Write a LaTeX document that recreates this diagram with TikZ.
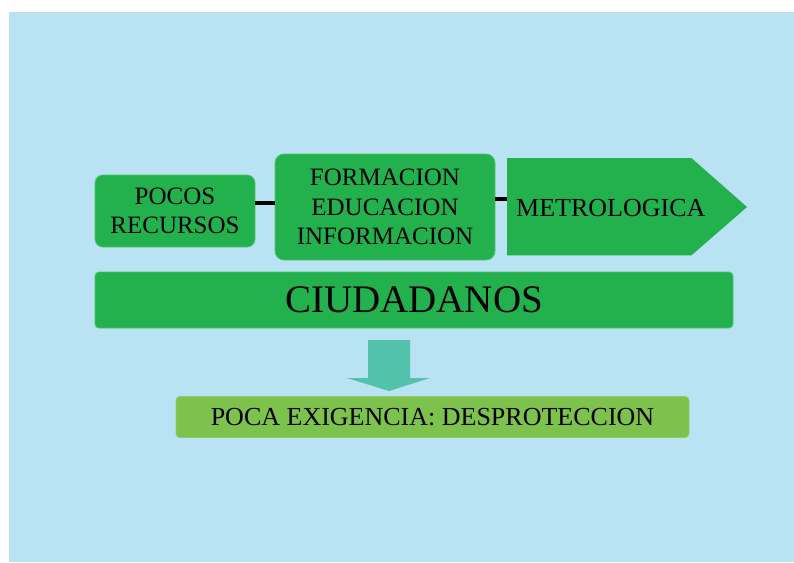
\documentclass[tikz,border=0pt]{standalone}
\usepackage{fontspec}
\setmainfont{Liberation Serif}
\definecolor{bgblue}{RGB}{185,227,243}
\definecolor{boxgreen}{RGB}{34,177,76}
\definecolor{lightgreen}{RGB}{125,194,76}
\definecolor{arrowteal}{RGB}{82,194,170}
\begin{document}
\begin{tikzpicture}[x=1pt,y=-1pt,
  gbox/.style={fill=boxgreen, draw=boxgreen!80!white, line width=0.8pt, inner sep=0pt, align=center, text=black},
  topfont/.style={font=\fontsize{25}{29.5}\selectfont},
  link/.style={line width=4pt, black}]
\useasboundingbox (0,0) rectangle (794,562);
\fill[white] (0,0) rectangle (794,562);
\fill[bgblue] (9,12) rectangle (794,562);

% top row
\node (pocos) [gbox, topfont, rounded corners=8pt, minimum width=160pt, minimum height=72pt] at (175,211) {POCOS\\RECURSOS};
\node (form) [gbox, topfont, rounded corners=9pt, minimum width=220pt, minimum height=106pt] at (385,207) {FORMACION\\EDUCACION\\INFORMACION};
\node (metro) [inner sep=0pt, minimum width=184pt, minimum height=97pt, anchor=north west] at (507,158) {};
\fill[boxgreen] (metro.north west) -- (metro.north east) -- (747,207) -- (metro.south east) -- (metro.south west) -- cycle;
\node (metrotext) [font=\fontsize{26}{30}\selectfont, anchor=west, inner sep=0pt] at (516,208) {METROLOGICA};

\coordinate (c1) at (0,203);
\coordinate (c2) at (0,199);
\draw[link] (pocos.east |- c1) -- (form.west |- c1);
\draw[link] (form.east |- c2) -- (metro.west |- c2);

% citizens
\node (ciud) [gbox, rounded corners=4pt, minimum width=638pt, minimum height=56pt, font=\fontsize{39}{44}\selectfont] at (414,300) {CIUDADANOS};

% arrow
\fill[arrowteal] (368,340) -- (410,340) -- (410,378) -- (430,378) -- (389,391) -- (347,378) -- (368,378) -- cycle;

% result
\node (poca) [fill=lightgreen, draw=lightgreen!85!white, line width=0.8pt, rounded corners=4pt, inner sep=0pt, minimum width=513pt, minimum height=41pt, font=\fontsize{26}{30}\selectfont] at (432.5,417) {POCA EXIGENCIA: DESPROTECCION};
\end{tikzpicture}
\end{document}
